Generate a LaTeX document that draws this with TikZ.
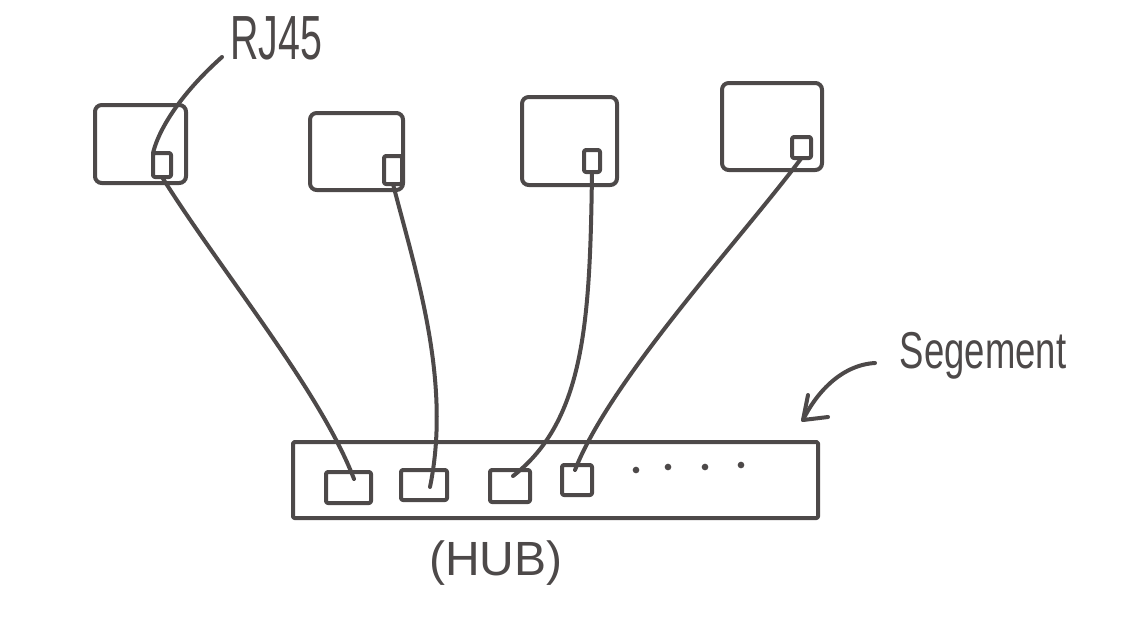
\documentclass[tikz,border=0pt]{standalone}
\usepackage{fontspec}
\setmainfont{Liberation Sans}
\definecolor{ink}{RGB}{77,73,73}
\begin{document}
\begin{tikzpicture}[x=0.75pt,y=-0.75pt,
  line width=3pt, line cap=round, line join=round,
  every node/.style={inner sep=0pt, outer sep=0pt},
  comp/.style={draw=ink, rounded corners=5pt},
  port/.style={draw=ink, rounded corners=1.5pt},
  hubbox/.style={draw=ink, rounded corners=1pt},
  cable/.style={draw=ink},
  dotm/.style={circle, fill=ink, minimum size=5pt},
  lbl/.style={text=ink, font=\fontsize{36}{40}\selectfont}]
\useasboundingbox (0,0) rectangle (1126,618);
% computers
\node[comp, minimum width=68.25pt, minimum height=58.5pt] (c1) at (140.5,144) {};
\node[comp, minimum width=69.75pt, minimum height=57.75pt] (c2) at (356.5,151.5) {};
\node[comp, minimum width=71.25pt, minimum height=66pt] (c3) at (569.5,141) {};
\node[comp, minimum width=75pt, minimum height=65.25pt] (c4) at (772,126.5) {};
% RJ45 ports on computers
\node[port, minimum width=13.5pt, minimum height=18pt] (p1) at (162,165) {};
\node[port, minimum width=13.5pt, minimum height=21pt] (p2) at (393,170) {};
\node[port, minimum width=12pt, minimum height=16.5pt] (p3) at (592,161) {};
\node[port, minimum width=14.25pt, minimum height=15.75pt] (p4) at (801.5,147.5) {};
% hub
\node[hubbox, minimum width=393.75pt, minimum height=57pt] (hub) at (555.5,480) {};
\node[port, minimum width=33.75pt, minimum height=23.25pt] (h1) at (348.5,487.5) {};
\node[port, minimum width=34.5pt, minimum height=22.5pt] (h2) at (424,485) {};
\node[port, minimum width=30pt, minimum height=24pt] (h3) at (510,486) {};
\node[port, minimum width=22.5pt, minimum height=22.5pt] (h4) at (577,480) {};
\node[dotm] (d1) at (636,470) {};
\node[dotm] (d2) at (668,467) {};
\node[dotm] (d3) at (705,467) {};
\node[dotm] (d4) at (741,465) {};
% cable ends inside hub ports
\coordinate (e1) at (354,479);
\coordinate (e2) at (430,487);
\coordinate (e3) at (513,476);
\coordinate (e4) at (575,470);
% cables
\draw[cable] (p1.south) .. controls (220,270) and (320,390) .. (e1);
\draw[cable] (p2.south) .. controls (415,270) and (452,380) .. (e2);
\draw[cable] (p3.south) .. controls (590,320) and (585,420) .. (e3);
\draw[cable] (p4.south) .. controls (740,240) and (610,380) .. (e4);
% labels
\node[lbl] (rj) at (276,38) {\scalebox{0.82}[1.3]{RJ45}};
\coordinate (rjl) at (222,57);
\draw[cable] (rjl) .. controls (185,90) and (160,125) .. (p1.north west);
\node[lbl] (hublbl) at (496,563) {(HUB)};
\node[lbl] (seg) at (983,356) {\scalebox{0.76}[1.08]{Segement}};
\coordinate (sa) at (875,363);
\coordinate (tip) at (803,420);
\coordinate (b1) at (808,395);
\coordinate (b2) at (828,417);
\draw[cable] (sa) .. controls (840,365) and (815,395) .. (tip);
\draw[cable] (b1) -- (tip) -- (b2);
\end{tikzpicture}
\end{document}
